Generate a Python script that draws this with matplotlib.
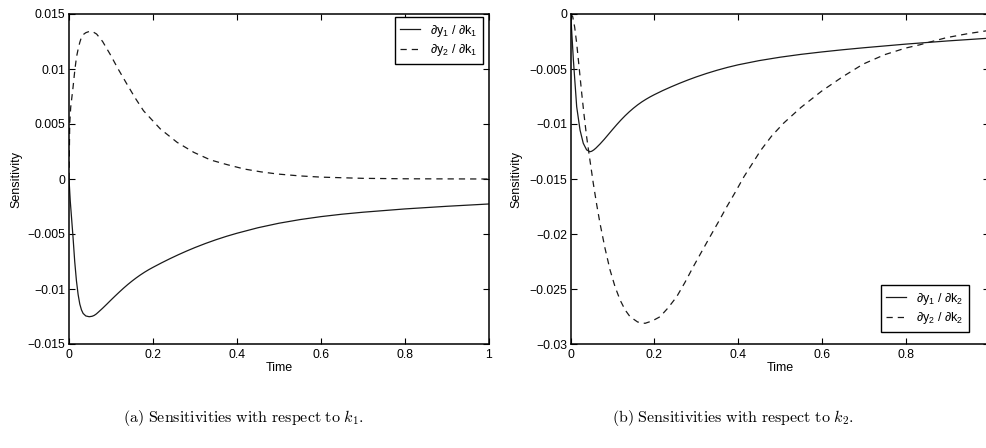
import matplotlib
matplotlib.use("Agg")
import matplotlib.pyplot as plt
from matplotlib.ticker import FuncFormatter

plt.rcParams['font.family'] = ['Liberation Sans', 'DejaVu Sans']
plt.rcParams['mathtext.fontset'] = 'custom'
plt.rcParams['mathtext.rm'] = 'Liberation Sans'
plt.rcParams['mathtext.it'] = 'Liberation Sans'
plt.rcParams['mathtext.bf'] = 'Liberation Sans:bold'

# sensitivities with respect to k1
t_y1_k1 = [0, 0.003, 0.0064, 0.0096, 0.0136, 0.0177, 0.0217, 0.0257, 0.0297, 0.0336,
           0.04, 0.048, 0.055, 0.06, 0.065, 0.07, 0.08, 0.09, 0.1, 0.11, 0.12, 0.13,
           0.14, 0.15, 0.16, 0.17, 0.18, 0.19, 0.2, 0.22, 0.24, 0.26, 0.28, 0.3, 0.325,
           0.35, 0.375, 0.4, 0.45, 0.5, 0.55, 0.6, 0.65, 0.7, 0.8, 0.9, 1.0]
y1_k1 = [0, -0.002, -0.0037, -0.0053, -0.0075, -0.00925, -0.0105, -0.01137, -0.0119,
         -0.01222, -0.01245, -0.01252, -0.01248, -0.0124, -0.01227, -0.0121, -0.01175,
         -0.01138, -0.011, -0.01063, -0.01027, -0.00992, -0.00959, -0.00928, -0.00899,
         -0.00872, -0.00847, -0.00824, -0.00803, -0.00763, -0.00725, -0.00689, -0.00655,
         -0.00623, -0.00586, -0.00552, -0.00521, -0.00493, -0.00443, -0.00402, -0.00369,
         -0.00342, -0.0032, -0.00302, -0.00272, -0.00248, -0.00227]

t_y2_k1 = [0, 0.0017, 0.004, 0.0096, 0.0136, 0.0177, 0.0217, 0.0257, 0.0297, 0.0336,
           0.04, 0.048, 0.056, 0.0657, 0.08, 0.0976, 0.117, 0.1377, 0.157, 0.1775,
           0.2175, 0.2575, 0.2973, 0.337, 0.377, 0.417, 0.457, 0.497, 0.55, 0.6, 0.7,
           0.8, 0.9, 1.0]
y2_k1 = [0, 0.005, 0.0065, 0.00833, 0.0098, 0.01106, 0.0118, 0.01242, 0.0129, 0.01312,
         0.0133, 0.01341, 0.0134, 0.01318, 0.0125, 0.01136, 0.01, 0.00864, 0.0074,
         0.0062, 0.00455, 0.00333, 0.00242, 0.00173, 0.0013, 0.00091, 0.00065, 0.00045,
         0.00028, 0.00017, 0.00006, 0.00002, 0.00001, 0.0]

# sensitivities with respect to k2
t_y1_k2 = [0, 0.0064, 0.0143, 0.0223, 0.030, 0.038, 0.046, 0.05, 0.055, 0.06, 0.07,
           0.08, 0.09, 0.1, 0.11, 0.12, 0.13, 0.14, 0.15, 0.16, 0.17, 0.18, 0.19, 0.2,
           0.22, 0.24, 0.26, 0.28, 0.3, 0.325, 0.35, 0.375, 0.4, 0.45, 0.5, 0.55, 0.6,
           0.65, 0.7, 0.8, 0.9, 0.995]
y1_k2 = [0, -0.00418, -0.00843, -0.01055, -0.01175, -0.01235, -0.01252, -0.01248,
         -0.01236, -0.0122, -0.01182, -0.0114, -0.01095, -0.0105, -0.01006, -0.00964,
         -0.00925, -0.00889, -0.00856, -0.00826, -0.00799, -0.00775, -0.00753, -0.00733,
         -0.00696, -0.00662, -0.0063, -0.006, -0.00572, -0.0054, -0.00511, -0.00485,
         -0.00462, -0.00424, -0.00393, -0.00367, -0.00345, -0.00325, -0.00307, -0.00274,
         -0.00245, -0.00221]

t_y2_k2 = [0, 0.0048, 0.0095, 0.0143, 0.02, 0.0263, 0.032, 0.038, 0.046, 0.054, 0.062,
           0.070, 0.082, 0.094, 0.106, 0.118, 0.13, 0.1418, 0.16, 0.1776, 0.195, 0.2135,
           0.233, 0.2533, 0.273, 0.293, 0.313, 0.333, 0.353, 0.373, 0.394, 0.414, 0.434,
           0.454, 0.48, 0.508, 0.55, 0.6, 0.65, 0.699, 0.75, 0.8, 0.834, 0.868, 0.898,
           0.95, 0.995]
y2_k2 = [0, -0.00024, -0.0012, -0.00267, -0.0048, -0.0072, -0.0092, -0.01115, -0.0133,
         -0.0154, -0.0173, -0.01903, -0.0213, -0.02327, -0.0248, -0.026, -0.0269,
         -0.02752, -0.028, -0.02812, -0.0279, -0.02752, -0.0267, -0.0257, -0.0244,
         -0.02297, -0.0216, -0.02024, -0.0189, -0.01752, -0.01615, -0.01479, -0.0136,
         -0.0124, -0.0111, -0.00995, -0.0085, -0.007, -0.0057, -0.00455, -0.0037,
         -0.0031, -0.0028, -0.00245, -0.00215, -0.00178, -0.00152]

xticks_a = [0, 0.2, 0.4, 0.6, 0.8, 1]
xticks_b = [0, 0.2, 0.4, 0.6, 0.8]
yticks_a = [-0.015, -0.01, -0.005, 0, 0.005, 0.01, 0.015]
yticks_b = [-0.03, -0.025, -0.02, -0.015, -0.01, -0.005, 0]

labels_a = [r'$\partial$y$_1$ / $\partial$k$_1$', r'$\partial$y$_2$ / $\partial$k$_1$']
labels_b = [r'$\partial$y$_1$ / $\partial$k$_2$', r'$\partial$y$_2$ / $\partial$k$_2$']
captions = [r'$\mathrm{(a)\ Sensitivities\ with\ respect\ to\ }k_1.$',
            r'$\mathrm{(b)\ Sensitivities\ with\ respect\ to\ }k_2.$']


def matlab_fmt(v, pos):
    s = '%g' % round(v, 6)
    if s == '-0':
        s = '0'
    return s.replace('-', '\u2212')


fig = plt.figure(figsize=(9.86, 4.48), dpi=100)
ax1 = fig.add_axes([69 / 986, 104 / 448, 420 / 986, 330 / 448])
ax2 = fig.add_axes([570.7 / 986, 104 / 448, 418.5 / 986, 330 / 448])

line_kw = dict(color='#1a1a1a', lw=0.9)
dash = (5, 4)

ax1.plot(t_y1_k1, y1_k1, label=labels_a[0], **line_kw)
ax1.plot(t_y2_k1, y2_k1, label=labels_a[1], dashes=dash, **line_kw)
ax2.plot(t_y1_k2, y1_k2, label=labels_b[0], **line_kw)
ax2.plot(t_y2_k2, y2_k2, label=labels_b[1], dashes=dash, **line_kw)

ax1.set_ylim(-0.015, 0.015)
ax2.set_ylim(-0.03, 0)
ax1.set_xticks(xticks_a)
ax2.set_xticks(xticks_b)
ax1.set_yticks(yticks_a)
ax2.set_yticks(yticks_b)

for ax in (ax1, ax2):
    ax.set_xlim(0, 1)
    ax.xaxis.set_major_formatter(FuncFormatter(matlab_fmt))
    ax.yaxis.set_major_formatter(FuncFormatter(matlab_fmt))
    ax.tick_params(direction='in', top=True, right=True, length=4, width=0.8,
                   labelsize=8.8)
    ax.tick_params(axis='x', pad=3.5)
    ax.tick_params(axis='y', pad=2.5)
    for sp in ax.spines.values():
        sp.set_linewidth(1.1)
    ax.set_xlabel('Time', fontsize=9, labelpad=1)
    ax.set_ylabel('Sensitivity', fontsize=9)

ax1.yaxis.set_label_coords(-0.11, 0.5)
ax2.yaxis.set_label_coords(-0.116, 0.5)

leg_kw = dict(fontsize=9, frameon=True, fancybox=False, framealpha=1,
              edgecolor='black', handlelength=1.6, handletextpad=0.8,
              borderpad=0.45, labelspacing=0.3, borderaxespad=0)
leg1 = ax1.legend(loc='upper right', bbox_to_anchor=(0.986, 0.991), **leg_kw)
leg2 = ax2.legend(loc='lower right', bbox_to_anchor=(0.952, 0.036), **leg_kw)
for leg in (leg1, leg2):
    leg.get_frame().set_linewidth(1.0)

fig.text(243 / 986, 1 - 418 / 448, captions[0], ha='center', va='center',
         fontsize=11.5, math_fontfamily='cm')
fig.text(733 / 986, 1 - 418 / 448, captions[1], ha='center', va='center',
         fontsize=11.5, math_fontfamily='cm')

fig.savefig('out.png', dpi=100)
